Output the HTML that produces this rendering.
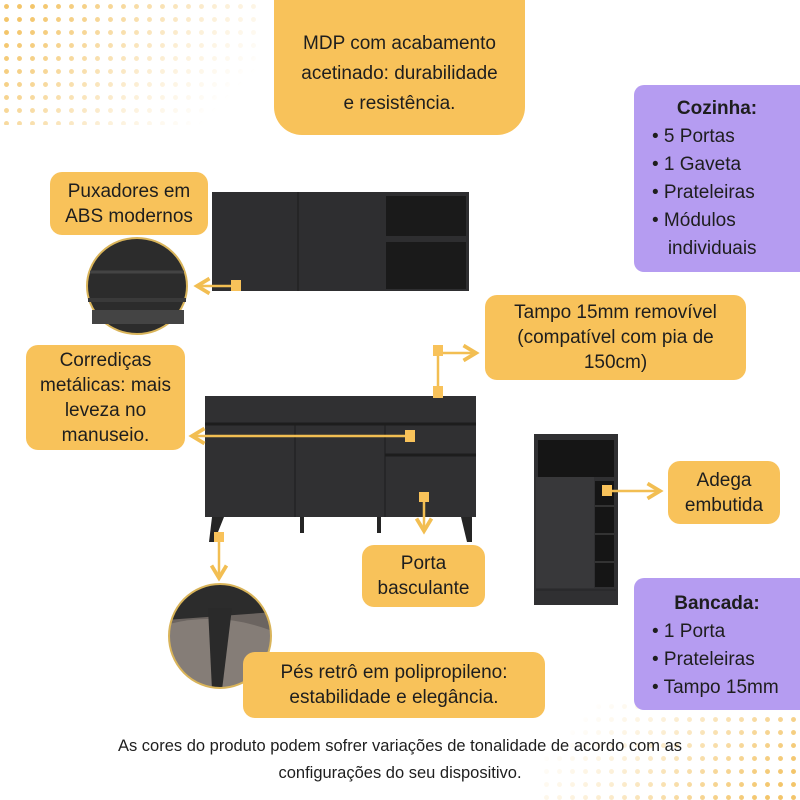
<!DOCTYPE html>
<html><head><meta charset="utf-8"><style>
html,body{margin:0;padding:0;background:#fff;}
body{width:800px;height:800px;position:relative;overflow:hidden;font-family:"Liberation Sans",sans-serif;color:#1e1e1e;}
.b{position:absolute;background:#F8C25A;text-align:center;font-size:19px;line-height:25px;display:flex;flex-direction:column;justify-content:center;border-radius:12px;}
.p{position:absolute;background:#B59CF1;border-radius:10px 0 0 10px;font-size:19px;line-height:28px;}
.p b{display:block;text-align:center;}
.p div{padding-left:18px;}
.f{position:absolute;left:0;width:800px;text-align:center;font-size:16.5px;}
svg{position:absolute;left:0;top:0;}
</style></head><body>
<div style="position:absolute;left:0;top:0;width:260px;height:125px;background-image:radial-gradient(circle,#F3C56A 2.2px,transparent 2.7px);background-size:13px 13px;-webkit-mask-image:linear-gradient(135deg,#000 10%,rgba(0,0,0,0.25) 60%,transparent 85%);mask-image:linear-gradient(135deg,#000 10%,rgba(0,0,0,0.25) 60%,transparent 85%);"></div>
<div style="position:absolute;left:540px;top:700px;width:260px;height:100px;background-image:radial-gradient(circle,#F3C56A 2.2px,transparent 2.7px);background-size:13px 13px;-webkit-mask-image:linear-gradient(315deg,#000 10%,rgba(0,0,0,0.25) 60%,transparent 85%);mask-image:linear-gradient(315deg,#000 10%,rgba(0,0,0,0.25) 60%,transparent 85%);"></div>
<svg width="800" height="800">
<defs><marker id="a" markerWidth="8" markerHeight="8" refX="6" refY="4" orient="auto"><path d="M1,1 L6,4 L1,7" fill="none" stroke="#F2BE52" stroke-width="1.5"/></marker></defs>
<rect x="212" y="192" width="257" height="99" fill="#2e2e30"/>
<line x1="298" y1="192" x2="298" y2="291" stroke="#1c1c1c"/>
<rect x="386" y="196" width="80" height="40" fill="#1a1a1a"/>
<rect x="386" y="242" width="80" height="47" fill="#1a1a1a"/>
<ellipse cx="137" cy="286" rx="50" ry="48" fill="#2c2c2c" stroke="#d9b45a" stroke-width="2"/>
<line x1="90" y1="272" x2="184" y2="272" stroke="#444" stroke-width="3"/>
<line x1="88" y1="300" x2="186" y2="300" stroke="#3a3a3a" stroke-width="4"/>
<rect x="92" y="310" width="92" height="14" fill="#444"/>
<clipPath id="c2"><ellipse cx="220" cy="636" rx="51" ry="52"/></clipPath>
<g clip-path="url(#c2)">
<rect x="160" y="580" width="120" height="120" fill="#6b6460"/>
<path d="M165,625 Q220,610 275,632 L275,700 L165,700Z" fill="#857d77"/>
<path d="M165,580 L275,580 L275,612 L165,620Z" fill="#2c2c2c"/>
<path d="M208,608 L232,608 L222,690 L212,690Z" fill="#2a2a2a"/>
</g>
<ellipse cx="220" cy="636" rx="51" ry="52" fill="none" stroke="#d9b45a" stroke-width="2"/>
<rect x="205" y="396" width="271" height="121" fill="#303032"/>
<line x1="205" y1="424" x2="476" y2="424" stroke="#1d1d1d" stroke-width="3"/>
<line x1="295" y1="424" x2="295" y2="517" stroke="#1d1d1d"/>
<line x1="385" y1="424" x2="385" y2="517" stroke="#1d1d1d"/>
<line x1="385" y1="455" x2="476" y2="455" stroke="#1d1d1d" stroke-width="3"/>
<path d="M212,517 L224,517 L214,542 L209,542Z M461,517 L472,517 L472,542 L467,542Z" fill="#252525"/>
<rect x="300" y="517" width="4" height="16" fill="#252525"/>
<rect x="377" y="517" width="4" height="16" fill="#252525"/>
<rect x="534" y="434" width="84" height="171" fill="#303032"/>
<rect x="538" y="440" width="76" height="37" fill="#151515"/>
<rect x="595" y="481" width="19" height="106" fill="#151515"/>
<line x1="595" y1="506" x2="614" y2="506" stroke="#333" stroke-width="2"/>
<line x1="595" y1="534" x2="614" y2="534" stroke="#333" stroke-width="2"/>
<line x1="595" y1="562" x2="614" y2="562" stroke="#333" stroke-width="2"/>
<rect x="536" y="477" width="58" height="111" fill="#38383a"/>
<line x1="536" y1="590" x2="616" y2="590" stroke="#252525"/>
<g stroke="#F2BE52" stroke-width="2.5" fill="none">
<line x1="236" y1="286" x2="197" y2="286" marker-end="url(#a)"/>
<line x1="438" y1="352" x2="438" y2="392"/>
<line x1="438" y1="353" x2="476" y2="353" marker-end="url(#a)"/>
<line x1="410" y1="436" x2="192" y2="436" marker-end="url(#a)"/>
<line x1="424" y1="497" x2="424" y2="531" marker-end="url(#a)"/>
<line x1="219" y1="537" x2="219" y2="578" marker-end="url(#a)"/>
<line x1="607" y1="491" x2="660" y2="491" marker-end="url(#a)"/>
</g>
<g fill="#F8C25A">
<rect x="231" y="280" width="10" height="11"/>
<rect x="433" y="345" width="10" height="11"/>
<rect x="433" y="386" width="10" height="12"/>
<rect x="405" y="430" width="10" height="12"/>
<rect x="419" y="492" width="10" height="10"/>
<rect x="214" y="532" width="10" height="10"/>
<rect x="602" y="485" width="10" height="11"/>
</g>
</svg>
<div class="b" style="left:274px;top:-20px;width:251px;height:155px;border-radius:0 0 28px 28px;padding-top:32px;box-sizing:border-box;line-height:30px">MDP com acabamento<br>acetinado: durabilidade<br>e resistência.</div>
<div class="b" style="left:50px;top:172px;width:158px;height:63px;">Puxadores em<br>ABS modernos</div>
<div class="b" style="left:485px;top:295px;width:261px;height:85px;">Tampo 15mm removível<br>(compatível com pia de<br>150cm)</div>
<div class="b" style="left:26px;top:345px;width:159px;height:105px;">Corrediças<br>metálicas: mais<br>leveza no<br>manuseio.</div>
<div class="b" style="left:362px;top:545px;width:123px;height:62px;">Porta<br>basculante</div>
<div class="b" style="left:668px;top:461px;width:112px;height:63px;">Adega<br>embutida</div>
<div class="b" style="left:243px;top:652px;width:302px;height:66px;">Pés retrô em polipropileno:<br>estabilidade e elegância.</div>
<div class="p" style="left:634px;top:85px;width:166px;height:187px;padding-top:10px;box-sizing:border-box"><b>Cozinha:</b><div>• 5 Portas</div><div>• 1 Gaveta</div><div>• Prateleiras</div><div>• Módulos<br>&nbsp;&nbsp;&nbsp;individuais</div></div>
<div class="p" style="left:634px;top:578px;width:166px;height:132px;padding-top:12px;box-sizing:border-box"><b>Bancada:</b><div>• 1 Porta</div><div>• Prateleiras</div><div>• Tampo 15mm</div></div>
<div class="f" style="top:737px;">As cores do produto podem sofrer variações de tonalidade de acordo com as</div>
<div class="f" style="top:764px;">configurações do seu dispositivo.</div>
</body></html>
